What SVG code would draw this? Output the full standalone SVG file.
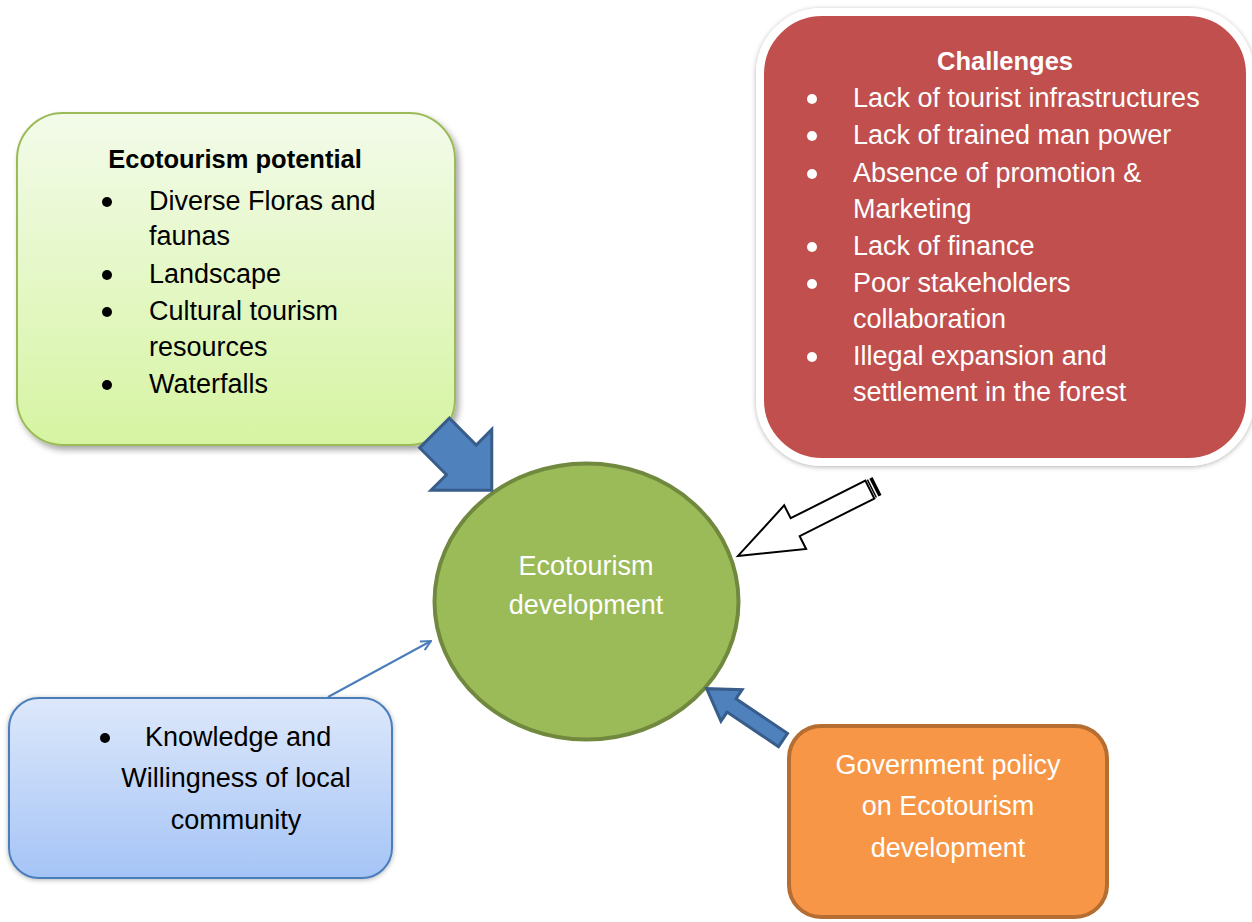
<svg xmlns="http://www.w3.org/2000/svg" width="1252" height="922" viewBox="0 0 1252 922">
  <style>
    text { font-family: "Liberation Sans", Arial, sans-serif; font-size: 27px; }
    .dark { fill: #000000; }
    .light { fill: #ffffff; }
    .bold { font-weight: bold; font-size: 25.5px; }
    .mid { text-anchor: middle; }
    .block { fill: #4f81bd; stroke: #385d8a; stroke-width: 3; stroke-linejoin: miter; }
  </style>
  <defs>
    <linearGradient id="gGreen" x1="0" y1="0" x2="0" y2="1">
      <stop offset="0" stop-color="#f3fbea"/>
      <stop offset="1" stop-color="#d6f4a2"/>
    </linearGradient>
    <linearGradient id="gBlue" x1="0" y1="0" x2="0" y2="1">
      <stop offset="0" stop-color="#dde8fb"/>
      <stop offset="1" stop-color="#a5c4f6"/>
    </linearGradient>
    <filter id="shadow" x="-10%" y="-10%" width="125%" height="125%">
      <feDropShadow dx="3" dy="4" stdDeviation="3" flood-color="#000000" flood-opacity="0.35"/>
    </filter>
    <filter id="halo" x="-10%" y="-10%" width="125%" height="125%">
      <feDropShadow dx="0" dy="1" stdDeviation="2.5" flood-color="#000000" flood-opacity="0.3"/>
    </filter>
    <marker id="openHead" viewBox="0 0 12 12" refX="11" refY="6" markerWidth="12" markerHeight="12" markerUnits="userSpaceOnUse" orient="auto">
      <path d="M1,1 L11,6 L1,11" fill="none" stroke="#4a7ebb" stroke-width="2"/>
    </marker>
  </defs>

  <!-- ecotourism potential -->
  <g id="node-potential">
    <rect x="17" y="113" width="438" height="332" rx="46" ry="46" fill="url(#gGreen)" stroke="#9bbb59" stroke-width="2" filter="url(#shadow)"/>
    <text class="dark bold mid" x="235" y="168">Ecotourism potential</text>
    <g class="dark">
      <circle cx="107" cy="202" r="5"/>
      <circle cx="107" cy="275" r="5"/>
      <circle cx="107" cy="312" r="5"/>
      <circle cx="107" cy="385" r="5"/>
    </g>
    <text class="dark" x="149" y="210">Diverse Floras and</text>
    <text class="dark" x="149" y="245">faunas</text>
    <text class="dark" x="149" y="283">Landscape</text>
    <text class="dark" x="149" y="320">Cultural tourism</text>
    <text class="dark" x="149" y="356">resources</text>
    <text class="dark" x="149" y="393">Waterfalls</text>
  </g>

  <!-- challenges -->
  <g id="node-challenges">
    <rect x="760" y="12" width="490" height="450" rx="62" ry="62" fill="#c0504d" stroke="#ffffff" stroke-width="8" filter="url(#halo)"/>
    <text class="light bold mid" x="1005" y="70">Challenges</text>
    <g class="light">
      <circle cx="812" cy="99" r="5"/>
      <circle cx="812" cy="136" r="5"/>
      <circle cx="812" cy="174" r="5"/>
      <circle cx="812" cy="247" r="5"/>
      <circle cx="812" cy="284" r="5"/>
      <circle cx="812" cy="357" r="5"/>
    </g>
    <text class="light" x="853" y="107">Lack of tourist infrastructures</text>
    <text class="light" x="853" y="144">Lack of trained man power</text>
    <text class="light" x="853" y="182">Absence of promotion &amp;</text>
    <text class="light" x="853" y="218">Marketing</text>
    <text class="light" x="853" y="255">Lack of finance</text>
    <text class="light" x="853" y="292">Poor stakeholders</text>
    <text class="light" x="853" y="328">collaboration</text>
    <text class="light" x="853" y="365">Illegal expansion and</text>
    <text class="light" x="853" y="401">settlement in the forest</text>
  </g>

  <!-- ecotourism development -->
  <g id="node-development">
    <ellipse cx="586.5" cy="601.5" rx="152" ry="138" fill="#9bbb59" stroke="#71893f" stroke-width="4"/>
    <text class="light mid" x="586" y="575">Ecotourism</text>
    <text class="light mid" x="586" y="614">development</text>
  </g>

  <!-- local community -->
  <g id="node-community">
    <rect x="9" y="698" width="383" height="180" rx="30" ry="30" fill="url(#gBlue)" stroke="#4a7ebb" stroke-width="2" filter="url(#halo)"/>
    <circle cx="105" cy="738" r="5" class="dark"/>
    <text class="dark" x="145" y="746">Knowledge and</text>
    <text class="dark mid" x="236" y="787">Willingness of local</text>
    <text class="dark mid" x="236" y="829">community</text>
  </g>

  <!-- government policy -->
  <g id="node-policy">
    <rect x="789" y="726" width="318" height="191" rx="32" ry="32" fill="#f79646" stroke="#b66d31" stroke-width="4"/>
    <text class="light mid" x="948" y="774">Government policy</text>
    <text class="light mid" x="948" y="815">on Ecotourism</text>
    <text class="light mid" x="948" y="857">development</text>
  </g>

  <!-- connectors -->
  <g id="connectors">
    <!-- potential -> development (block arrow) -->
    <polygon class="block" transform="translate(434.5,433) rotate(45)"
      points="0,-21 38,-21 38,-43 81,0 38,43 38,21 0,21"/>
    <!-- challenges -> development (striped hollow arrow) -->
    <g transform="translate(877,486) rotate(153.3)">
      <polygon points="8,-10 91.6,-10 91.6,-24.4 155.6,0 91.6,24.4 91.6,10 8,10"
        fill="#ffffff" stroke="#000000" stroke-width="2" stroke-linejoin="miter"/>
      <rect x="0" y="-10" width="3.5" height="20" fill="#000000"/>
      <rect x="5" y="-10" width="1.5" height="20" fill="#000000"/>
    </g>
    <!-- policy -> development (block arrow) -->
    <polygon class="block" transform="translate(783,740) rotate(213.9)"
      points="0,-8 62,-8 62,-19 92,0 62,19 62,8 0,8"/>
    <!-- community -> development (line arrow) -->
    <line x1="328" y1="697" x2="431" y2="641" stroke="#4a7ebb" stroke-width="2" marker-end="url(#openHead)"/>
  </g>
</svg>
